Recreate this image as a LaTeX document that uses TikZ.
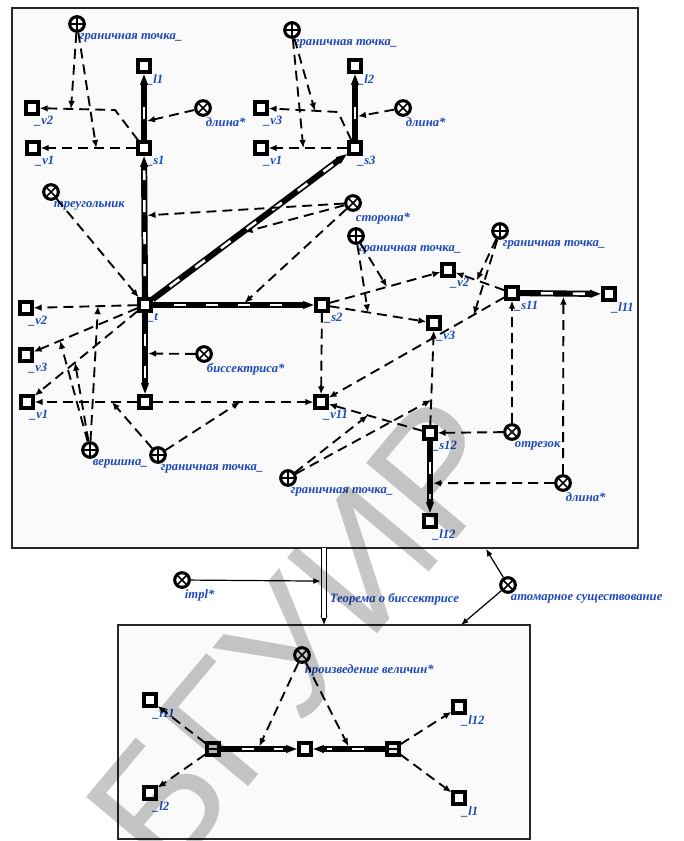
\documentclass[tikz,border=0pt]{standalone}
\usepackage{fontspec}
\setmainfont{Liberation Serif}
\newfontfamily\wmfont{Liberation Sans}
\usepackage{tikz}
\usetikzlibrary{arrows.meta}
\usetikzlibrary{calc}

\definecolor{lblue}{RGB}{28,72,185}
\definecolor{boxfill}{RGB}{250,250,250}

\tikzset{
    var/.style={draw, line width=2.4pt, fill=white, minimum size=9pt, inner sep=0pt},
    rel/.style={circle, draw, line width=2.3pt, fill=white, minimum size=11pt, inner sep=0pt,
        path picture={\draw[line width=1.3pt]
            (path picture bounding box.north west) -- (path picture bounding box.south east)
            (path picture bounding box.north east) -- (path picture bounding box.south west);}},
    role/.style={circle, draw, line width=2.3pt, fill=white, minimum size=11pt, inner sep=0pt,
        path picture={\draw[line width=1.3pt]
            (path picture bounding box.north) -- (path picture bounding box.south)
            (path picture bounding box.west) -- (path picture bounding box.east);}},
    tuple/.style={var, fill=black!8,
        path picture={\draw[line width=1.3pt]
            (path picture bounding box.west) -- (path picture bounding box.east);}},
    lbl/.style={text=lblue, font=\bfseries\itshape\fontsize{9.5}{10}\selectfont,
        anchor=north west, inner sep=0.5pt, xshift=1.5pt},
    acc/.style={line width=1.4pt, dash pattern=on 7.5pt off 4.5pt,
        -{Latex[length=6pt,width=5pt]}},
    solidarr/.style={line width=0.9pt, -{Latex[length=5.5pt,width=4.5pt]}},
    ctx/.style={draw=black!85, line width=1.4pt, fill=boxfill},
    wm/.style={text=black, opacity=0.22, font=\wmfont\fontsize{128}{128}\selectfont}
}

% thick common arc: black with white dashes
\newcommand\cmarc[2]{%
    \draw[line width=4.6pt, -{Triangle[length=8.5pt,width=5.4pt]}] (#1) -- (#2);
    \draw[white, line width=2pt, dash pattern=on 9pt off 15pt, dash phase=9pt,
        shorten <=1pt, shorten >=11pt] (#1) -- (#2);
}

\begin{document}
\begin{tikzpicture}[x=0.75pt, y=-0.75pt]
    \useasboundingbox (0,0) rectangle (684,841);

    % contours
    \draw[ctx] (12,8) rectangle (638,548);
    \draw[ctx] (118,625) rectangle (530,839);

    % upper contour
    \node[role, label={[lbl]south:граничная точка\_}] (bp1) at (77,24) {};
    \node[var, label={[lbl]south:\_l1}] (l1) at (144,66) {};
    \node[var, label={[lbl]south:\_v2}] (v2a) at (32,108) {};
    \node[var, label={[lbl]south:\_v1}] (v1a) at (33,148) {};
    \node[var, label={[lbl]south:\_s1}] (s1) at (144,148) {};
    \node[rel, label={[lbl]south:длина*}] (len1) at (203,108) {};
    \node[rel, label={[lbl]south:треугольник}] (tri) at (51,192) {};

    \node[role, label={[lbl]south:граничная точка\_}] (bp2) at (292,30) {};
    \node[var, label={[lbl]south:\_l2}] (l2) at (355,66) {};
    \node[var, label={[lbl]south:\_v3}] (v3b) at (261,108) {};
    \node[var, label={[lbl]south:\_v1}] (v1b) at (261,148) {};
    \node[var, label={[lbl]south:\_s3}] (s3) at (355,148) {};
    \node[rel, label={[lbl]south:длина*}] (len2) at (403,108) {};
    \node[rel, label={[lbl]south:сторона*}] (side) at (353,203) {};

    \node[role, label={[lbl]south:граничная точка\_}] (bp3) at (356,236) {};
    \node[role, label={[lbl]south:граничная точка\_}] (bp4) at (500,231) {};
    \node[var, label={[lbl]south:\_t}] (t) at (145,305) {};
    \node[var, label={[lbl]south:\_s2}] (s2) at (322,305) {};
    \node[var, label={[lbl]south:\_v2}] (v2c) at (448,270) {};
    \node[var, label={[lbl]south:\_v3}] (v3c) at (434,323) {};
    \node[var, label={[lbl]south:\_s11}] (s11) at (512,293) {};
    \node[var, label={[lbl]south:\_l11}] (l11) at (609,294) {};

    \node[var, label={[lbl]south:\_v2}] (v2) at (26,308) {};
    \node[var, label={[lbl]south:\_v3}] (v3) at (26,355) {};
    \node[var, label={[lbl]south:\_v1}] (v1) at (27,402) {};
    \node[var] (bis) at (145,402) {};
    \node[rel, label={[lbl]south:биссектриса*}] (bisrel) at (204,354) {};
    \node[var, label={[lbl]south:\_v11}] (v11) at (321,402) {};
    \node[var, label={[lbl]south:\_s12}] (s12) at (430,433) {};
    \node[rel, label={[lbl]south:отрезок}] (seg) at (512,432) {};
    \node[rel, label={[lbl]south:длина*}] (len3) at (563,483) {};
    \node[var, label={[lbl]south:\_l12}] (l12) at (430,521) {};
    \node[role, label={[lbl]south:вершина\_}] (vert) at (90,450) {};
    \node[role, label={[lbl]south:граничная точка\_}] (bp5) at (158,455) {};
    \node[role, label={[lbl]south:граничная точка\_}] (bp6) at (288,478) {};

    % between contours
    \node[rel, label={[lbl]south:impl*}] (impl) at (182,580) {};
    \node[rel, label={[lbl]south:атомарное существование}] (atom) at (508,585) {};
    \node[lbl] (thmname) at (327,592) {Теорема о биссектрисе};
    \coordinate (thtop) at (324,548);
    \coordinate (thbot) at (324,625);
    \coordinate (upatt) at (486,549);
    \coordinate (lowatt) at (461,625);

    % lower contour
    \node[rel, label={[lbl]south:произведение величин*}] (prod) at (302,655) {};
    \node[var, label={[lbl]south:\_l11}] (l11b) at (150,700) {};
    \node[var, label={[lbl]south:\_l2}] (l2b) at (150,793) {};
    \node[tuple] (tup1) at (213,749) {};
    \node[var] (prodval) at (305,749) {};
    \node[tuple] (tup2) at (393,749) {};
    \node[var, label={[lbl]south:\_l12}] (l12b) at (459,707) {};
    \node[var, label={[lbl]south:\_l1}] (l1b) at (459,798) {};

    % bends
    \coordinate (s1b) at (115,110);
    \coordinate (s3b) at (338,112);

    % common arcs
    \foreach \a/\b in {t/s1, t/s3, t/s2, t/bis, s1/l1, s3/l2, s11/l11, s12/l12, tup1/prodval, tup2/prodval}
        \cmarc{\a}{\b};

    % access arcs
    \foreach \a/\b in {t/v2, t/v3, t/v1, bis/v1, bis/v11, s1/v1a, s3/v1b, s2/v2c, s2/v3c, s2/v11,
                       s11/v2c, s11/v11, s12/v3c, s12/v11, seg/s11, seg/s12, tri/t,
                       tup1/l11b, tup1/l2b, tup2/l12b, tup2/l1b}
        \draw[acc] (\a) -- (\b);
    \draw[acc] (s1) -- (s1b) -- (v2a);
    \draw[acc] (s3) -- (s3b) -- (v3b);

    % points on arcs
    \coordinate (tv2) at ($(t)!.395!(v2)$);
    \coordinate (tv3) at ($(t)!.714!(v3)$);
    \coordinate (tv1) at ($(t)!.593!(v1)$);
    \coordinate (bv1) at ($(bis)!.28!(v1)$);
    \coordinate (bv11) at ($(bis)!.54!(v11)$);
    \coordinate (s1v1) at ($(s1)!.43!(v1a)$);
    \coordinate (s1v2) at ($(s1b)!.53!(v2a)$);
    \coordinate (s3v1) at ($(s3)!.55!(v1b)$);
    \coordinate (s3v3) at ($(s3b)!.3!(v3b)$);
    \coordinate (s2v2) at ($(s2)!.516!(v2c)$);
    \coordinate (s2v3) at ($(s2)!.41!(v3c)$);
    \coordinate (s11v2) at ($(s11)!.55!(v2c)$);
    \coordinate (s11v11) at ($(s11)!.2!(v11)$);
    \coordinate (s12v3) at ($(s12)!.3!(v3c)$);
    \coordinate (s12v11) at ($(s12)!.57!(v11)$);
    \coordinate (ts1) at ($(t)!.57!(s1)$);
    \coordinate (ts3) at ($(t)!.46!(s3)$);
    \coordinate (ts2) at ($(t)!.55!(s2)$);
    \coordinate (tbis) at ($(t)!.5!(bis)$);
    \coordinate (s1l1) at ($(s1)!.32!(l1)$);
    \coordinate (s3l2) at ($(s3)!.38!(l2)$);
    \coordinate (s11l11) at ($(s11)!.53!(l11)$);
    \coordinate (s12l12) at ($(s12)!.57!(l12)$);
    \coordinate (tup1c) at ($(tup1)!.49!(prodval)$);
    \coordinate (tup2c) at ($(tup2)!.49!(prodval)$);
    \coordinate (thmid) at ($(thtop)!.43!(thbot)$);

    % role arcs
    \foreach \a/\b in {bp1/s1v2, bp1/s1v1, bp2/s3v3, bp2/s3v1, vert/tv2, vert/tv3, vert/tv1,
                       bp5/bv1, bp5/bv11, bp3/s2v2, bp3/s2v3, bp4/s11v2, bp4/s11v11,
                       bp6/s12v3, bp6/s12v11}
        \draw[acc] (\a) -- (\b);
    \foreach \a/\b in {len1/s1l1, len2/s3l2, side/ts1, side/ts3, side/ts2, bisrel/tbis,
                       len3/s11l11, len3/s12l12, prod/tup1c, prod/tup2c}
        \draw[acc, shorten >=2.3pt] (\a) -- (\b);

    % theorem
    \draw[line width=4.4pt, -{Triangle[length=7pt,width=4.6pt]}] (thtop) -- (thbot);
    \draw[white, line width=2.6pt, shorten >=5pt] (thtop) -- (thbot);
    \draw[solidarr, shorten >=2.5pt] (impl) -- (thmid);
    \draw[solidarr] (atom) -- (upatt);
    \draw[solidarr] (atom) -- (lowatt);

    % watermark
    \node[wm, rotate=50] (wmark) at (300,636) {БГУИР};
\end{tikzpicture}
\end{document}
